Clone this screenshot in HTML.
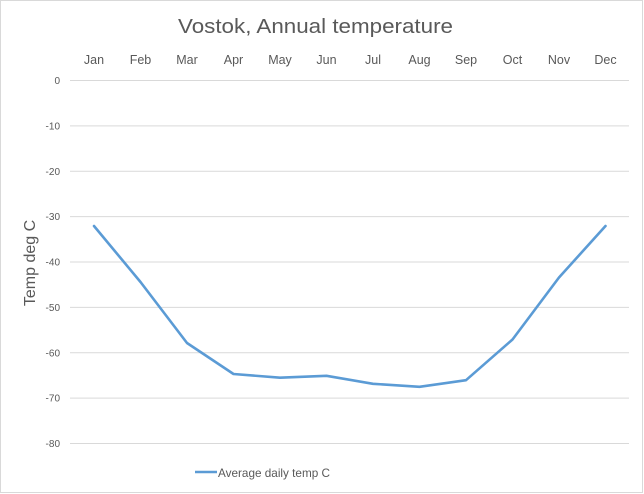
<!DOCTYPE html>
<html><head><meta charset="utf-8"><style>
html,body{margin:0;padding:0;background:#fff;}
svg{display:block;}
text{font-family:"Liberation Sans",sans-serif;fill:#595959;}
</style></head><body>
<svg width="644" height="494" viewBox="0 0 644 494" xmlns="http://www.w3.org/2000/svg">
<rect x="0.5" y="0.5" width="642" height="492" fill="#fff" stroke="#d9d9d9" stroke-width="1"/>
<text x="315.5" y="33" font-size="20.5" text-anchor="middle" textLength="275" lengthAdjust="spacingAndGlyphs">Vostok, Annual temperature</text>
<g stroke="#d9d9d9" stroke-width="1">
<line x1="70" x2="629" y1="80.5" y2="80.5"/>
<line x1="70" x2="629" y1="125.9" y2="125.9"/>
<line x1="70" x2="629" y1="171.3" y2="171.3"/>
<line x1="70" x2="629" y1="216.6" y2="216.6"/>
<line x1="70" x2="629" y1="262" y2="262"/>
<line x1="70" x2="629" y1="307.4" y2="307.4"/>
<line x1="70" x2="629" y1="352.8" y2="352.8"/>
<line x1="70" x2="629" y1="398.1" y2="398.1"/>
<line x1="70" x2="629" y1="443.5" y2="443.5"/>
</g>
<g font-size="10" text-anchor="end">
<text x="60" y="84">0</text>
<text x="60" y="129.4">-10</text>
<text x="60" y="174.8">-20</text>
<text x="60" y="220.1">-30</text>
<text x="60" y="265.5">-40</text>
<text x="60" y="310.9">-50</text>
<text x="60" y="356.3">-60</text>
<text x="60" y="401.6">-70</text>
<text x="60" y="447">-80</text>
</g>
<g font-size="12.5" text-anchor="middle">
<text x="94" y="64">Jan</text>
<text x="140.5" y="64">Feb</text>
<text x="187" y="64">Mar</text>
<text x="233.5" y="64">Apr</text>
<text x="280" y="64">May</text>
<text x="326.5" y="64">Jun</text>
<text x="373" y="64">Jul</text>
<text x="419.5" y="64">Aug</text>
<text x="466" y="64">Sep</text>
<text x="512.5" y="64">Oct</text>
<text x="559" y="64">Nov</text>
<text x="605.5" y="64">Dec</text>
</g>
<text transform="translate(35,263) rotate(-90)" font-size="16" text-anchor="middle">Temp deg C</text>
<polyline fill="none" stroke="#5b9bd5" stroke-width="2.6" stroke-linejoin="round" stroke-linecap="round"
points="94,226 140.5,282 187,343 233.5,374 280,377.7 326.5,375.8 373,383.8 419.5,386.8 466,380.2 512.5,339.5 559,277.5 605.5,226"/>
<line x1="195" x2="217" y1="472" y2="472" stroke="#5b9bd5" stroke-width="2.6"/>
<text x="218" y="477" font-size="12" textLength="112" lengthAdjust="spacingAndGlyphs">Average daily temp C</text>
</svg>
</body></html>
